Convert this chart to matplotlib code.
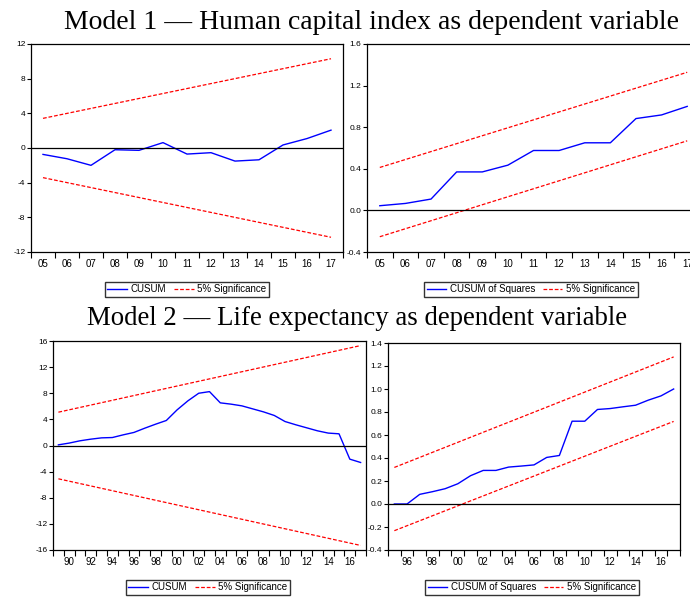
import matplotlib
matplotlib.use("Agg")
import matplotlib.pyplot as plt
from matplotlib.ticker import FixedLocator

plt.rcParams['font.family'] = ['Liberation Sans', 'DejaVu Sans']

W, H = 690, 602

# Model 1: 2005-2017
years1 = list(range(2005, 2018))
cusum1 = [-0.74, -1.24, -2.0, -0.2, -0.27, 0.62, -0.7, -0.54, -1.51, -1.36, 0.35, 1.09, 2.06]
cusum1_ends = [2005, 2017]
cusum1_band = [3.42, 10.3]
cusumsq1 = [0.045, 0.067, 0.109, 0.37, 0.37, 0.435, 0.576, 0.576, 0.65, 0.65, 0.883, 0.918, 1.0]
cusumsq1_upper = [0.413, 1.328]
cusumsq1_lower = [-0.253, 0.669]

# Model 2: CUSUM 1989-2017, CUSUM of squares 1995-2017
years2 = list(range(1989, 2018))
cusum2 = [0.1, 0.37, 0.72, 0.97, 1.17, 1.22, 1.63, 2.0, 2.65, 3.26, 3.83, 5.46, 6.84, 8.0,
          8.25, 6.53, 6.33, 6.07, 5.61, 5.15, 4.6, 3.67, 3.17, 2.71, 2.25, 1.9, 1.79, -2.09, -2.6]
cusum2_ends = [1989, 2017]
cusum2_band = [5.1, 15.3]
years3 = list(range(1995, 2018))
cusumsq2 = [0.0, 0.0, 0.084, 0.107, 0.133, 0.176, 0.246, 0.292, 0.292, 0.321, 0.33, 0.34,
            0.405, 0.422, 0.72, 0.72, 0.822, 0.83, 0.845, 0.859, 0.903, 0.94, 1.0]
cusumsq2_ends = [1995, 2017]
cusumsq2_upper = [0.318, 1.279]
cusumsq2_lower = [-0.232, 0.718]

title1 = "Model 1 \u2014 Human capital index as dependent variable"
title2 = "Model 2 \u2014 Life expectancy as dependent variable"

fig = plt.figure(figsize=(W / 100, H / 100), dpi=100)


def box(l, t, r, b):
    return [l / W, 1 - b / H, (r - l) / W, (b - t) / H]


def panel(rect, x, y, ends, upper, lower, xlim, ylim, yticks, ylabels, xlab_years, name, leg_center):
    ax = fig.add_axes(box(*rect))
    ax.plot(x, y, color='#0000ff', lw=1.0, label=name)
    ax.plot(ends, upper, color='#ff0000', lw=0.9, ls=(0, (3, 1.5)), label='5% Significance')
    ax.plot(ends, lower, color='#ff0000', lw=0.9, ls=(0, (3, 1.5)))
    ax.axhline(0, color='black', lw=0.9)
    ax.set_xlim(*xlim)
    ax.set_ylim(*ylim)
    ax.set_yticks(yticks)
    ax.set_yticklabels(ylabels)
    ax.set_xticks(xlab_years)
    ax.set_xticklabels(['%02d' % (yy % 100) for yy in xlab_years])
    ax.xaxis.set_minor_locator(FixedLocator([v + 0.5 for v in range(int(xlim[0]), int(xlim[1]) + 1)]))
    ax.tick_params(axis='x', which='major', length=0, labelsize=7, pad=5)
    ax.tick_params(axis='x', which='minor', length=4, width=0.8, direction='out')
    ax.tick_params(axis='y', length=3, width=0.8, labelsize=6, pad=1)
    for s in ax.spines.values():
        s.set_linewidth(0.9)
    cx, cy = leg_center
    ax.legend(loc='center', bbox_to_anchor=(cx / W, 1 - cy / H), bbox_transform=fig.transFigure,
              ncol=2, fontsize=7, frameon=True, fancybox=False, edgecolor='black',
              handlelength=2.0, handletextpad=0.4, columnspacing=0.8, borderpad=0.25,
              borderaxespad=0)
    return ax


panel((31, 44, 343, 252), years1, cusum1, cusum1_ends, cusum1_band, [-v for v in cusum1_band],
      (2004.5, 2017.5), (-12, 12), [-12, -8, -4, 0, 4, 8, 12],
      ['-12', '-8', '-4', '0', '4', '8', '12'], years1, 'CUSUM', (187, 289.5))
panel((367, 44, 700, 252), years1, cusumsq1, cusum1_ends, cusumsq1_upper, cusumsq1_lower,
      (2004.5, 2017.5), (-0.4, 1.6), [-0.4, 0.0, 0.4, 0.8, 1.2, 1.6],
      ['-0.4', '0.0', '0.4', '0.8', '1.2', '1.6'], years1, 'CUSUM of Squares', (531, 289.5))
panel((53, 341, 366, 550), years2, cusum2, cusum2_ends, cusum2_band, [-v for v in cusum2_band],
      (1988.5, 2017.5), (-16, 16), [-16, -12, -8, -4, 0, 4, 8, 12, 16],
      ['-16', '-12', '-8', '-4', '0', '4', '8', '12', '16'], list(range(1990, 2017, 2)),
      'CUSUM', (208, 587.5))
panel((388, 343, 680, 550), years3, cusumsq2, cusumsq2_ends, cusumsq2_upper, cusumsq2_lower,
      (1994.5, 2017.5), (-0.4, 1.4), [-0.4, -0.2, 0.0, 0.2, 0.4, 0.6, 0.8, 1.0, 1.2, 1.4],
      ['-0.4', '-0.2', '0.0', '0.2', '0.4', '0.6', '0.8', '1.0', '1.2', '1.4'],
      list(range(1996, 2017, 2)), 'CUSUM of Squares', (532, 587.5))

fig.text(371 / W, 1 - 29 / H, title1, ha='center', va='baseline', fontsize=20,
         family=['Liberation Serif', 'DejaVu Serif'])
fig.text(357 / W, 1 - 325 / H, title2, ha='center', va='baseline', fontsize=19.3,
         family=['Liberation Serif', 'DejaVu Serif'])

fig.savefig('out.png', dpi=100)
